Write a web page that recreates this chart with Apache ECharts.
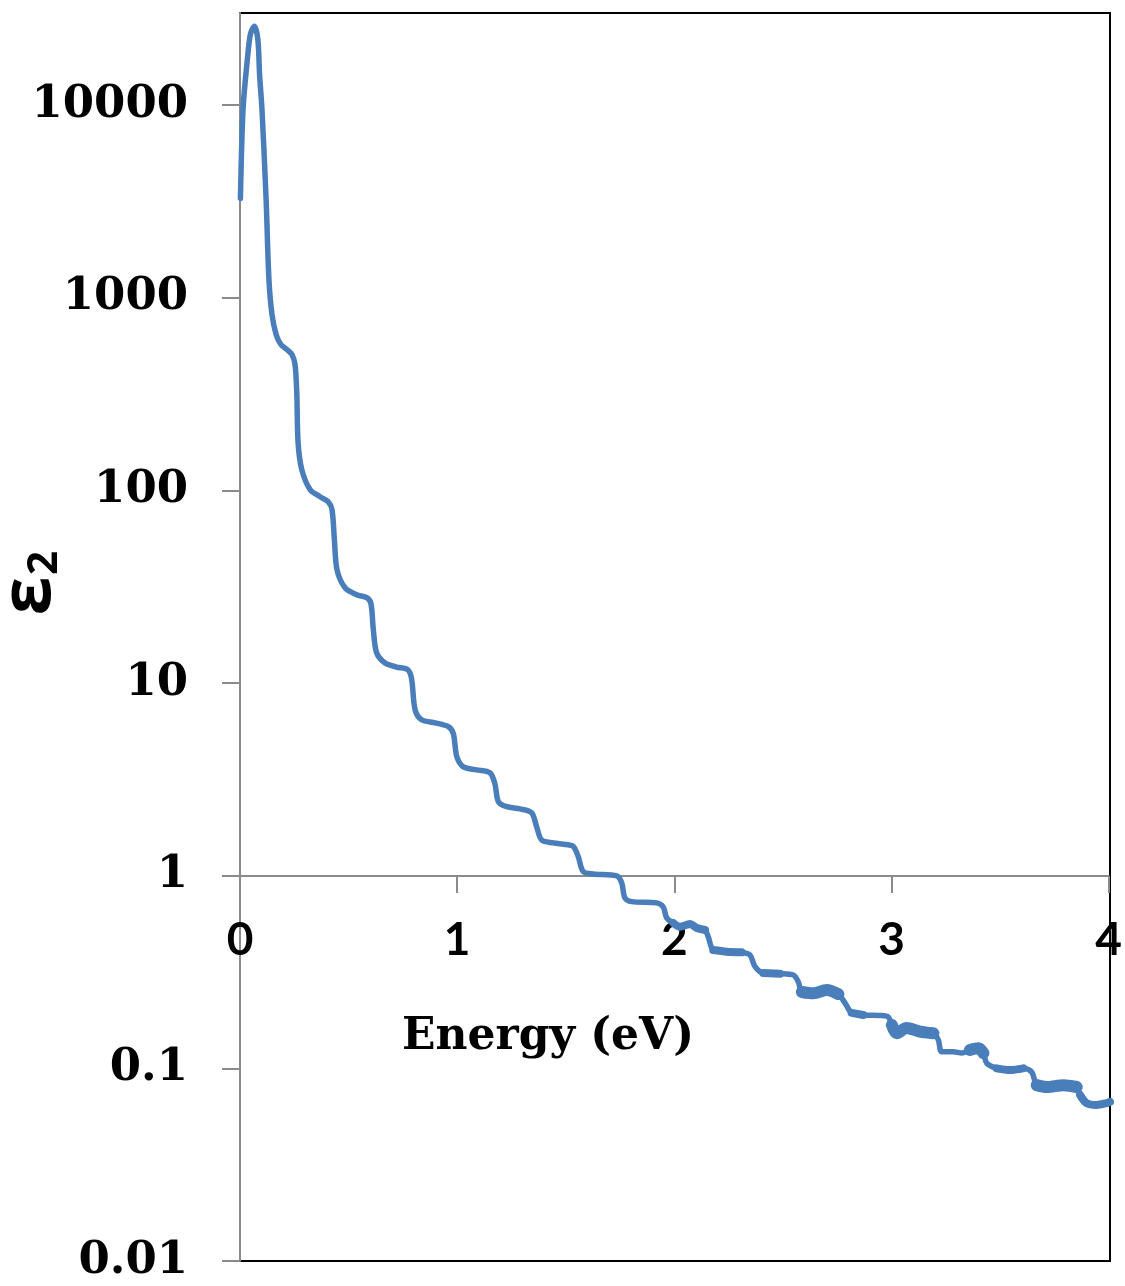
<!DOCTYPE html>
<html>
<head>
<meta charset="utf-8">
<script src="https://cdn.jsdelivr.net/npm/echarts@6/dist/echarts.min.js"></script>
<style>
  html, body { margin: 0; padding: 0; background: #ffffff; }
  #chart { width: 1125px; height: 1286px; }
</style>
</head>
<body>
<div id="chart"></div>
<script>
// Photon energy (eV) and imaginary part of the dielectric function, eps2
const energy = [
  0.002, 0.014, 0.034, 0.048, 0.066, 0.082, 0.090, 0.101, 0.120, 0.133,
  0.147, 0.166, 0.188, 0.216, 0.239, 0.253, 0.261, 0.267, 0.284, 0.322,
  0.368, 0.405, 0.423, 0.434, 0.446, 0.483, 0.536, 0.583, 0.602, 0.613,
  0.628, 0.667, 0.720, 0.772, 0.789, 0.805, 0.835, 0.897, 0.958, 0.981,
  0.997, 1.027, 1.088, 1.149, 1.172, 1.188, 1.226, 1.287, 1.341, 1.364,
  1.387, 1.441, 1.499, 1.533, 1.555, 1.578, 1.624, 1.732, 1.755, 1.770,
  1.801, 1.916, 1.946, 1.962, 1.992, 2.023, 2.069, 2.100, 2.138, 2.153,
  2.176, 2.238, 2.306, 2.345, 2.368, 2.406, 2.483, 2.544, 2.567, 2.583,
  2.637, 2.698, 2.751, 2.782, 2.812, 2.866, 2.943, 2.981, 2.997, 3.019,
  3.065, 3.126, 3.188, 3.211, 3.226, 3.279, 3.318, 3.356, 3.395, 3.418,
  3.433, 3.479, 3.540, 3.601, 3.640, 3.663, 3.709, 3.786, 3.847, 3.862,
  3.892, 3.938, 3.985, 4.000
];
const eps2 = [
  3275, 9500, 17300, 23300, 25600, 21900, 14400, 9500, 3240, 1244,
  818, 644, 571, 538, 507, 450, 322, 177, 128, 101,
  92.6, 87.3, 79.4, 55.5, 38.7, 31.2, 28.7, 27.7, 25.8, 18.9,
  14.35, 12.7, 12.1, 11.7, 10.5, 7.26, 6.44, 6.21, 5.93, 5.45,
  4.14, 3.67, 3.54, 3.42, 3.0, 2.42, 2.28, 2.22, 2.12, 1.79,
  1.53, 1.48, 1.45, 1.415, 1.256, 1.05, 1.02, 0.997, 0.917, 0.766,
  0.733, 0.722, 0.687, 0.603, 0.568, 0.543, 0.561, 0.535, 0.522, 0.481,
  0.411, 0.403, 0.400, 0.387, 0.337, 0.312, 0.310, 0.305, 0.281, 0.249,
  0.245, 0.255, 0.243, 0.218, 0.194, 0.189, 0.188, 0.1845, 0.168, 0.152,
  0.162, 0.155, 0.152, 0.140, 0.122, 0.122, 0.120, 0.1245, 0.127, 0.120,
  0.1064, 0.100, 0.098, 0.100, 0.0958, 0.0818, 0.080, 0.0818, 0.080, 0.0728,
  0.066, 0.0646, 0.066, 0.067
];

// Energy windows where the spectrum is visibly noisy
const moderateNoise = [[1.99, 2.14], [2.17, 2.31], [2.40, 2.49], [2.81, 2.87], [3.47, 3.61], [3.86, 4.0]];
const strongNoise = [[2.58, 2.76], [2.99, 3.19], [3.35, 3.42], [3.66, 3.85]];

const yTickValues = [0.01, 0.1, 1, 10, 100, 1000, 10000];
const yTickLabels = ['0.01', '0.1', '1', '10', '100', '1000', '10000'];
const xTickValues = [0, 1, 2, 3, 4];
const xTickLabels = ['0', '1', '2', '3', '4'];

const xTitle = 'Energy (eV)';
const yTitleMain = 'ε';
const yTitleSub = '2';

const curve = energy.map((e, i) => [e, eps2[i]]);

function inWindows(e, windows) {
  return windows.some(w => e >= w[0] && e <= w[1]);
}
function bandData(windows) {
  return curve.map(p => (inWindows(p[0], windows) ? p : [p[0], null]));
}

const lineColor = '#4a7ebb';
const axisGray = '#8a8a8a';

const chart = echarts.init(document.getElementById('chart'), null, { renderer: 'canvas' });

chart.setOption({
  animation: false,
  backgroundColor: '#ffffff',
  grid: [
    { left: 240, right: 15, top: 13, bottom: 25, show: true, borderColor: '#000000', borderWidth: 2, backgroundColor: 'transparent' },
    { left: 240, right: 15, top: 13, bottom: 410 }
  ],
  xAxis: [
    { gridIndex: 0, type: 'value', min: 0, max: 4, show: false },
    {
      gridIndex: 1, type: 'value', min: 0, max: 4, interval: 1,
      axisLine: { show: true, onZero: false, lineStyle: { color: axisGray, width: 2 } },
      axisTick: { show: true, inside: false, length: 17, lineStyle: { color: axisGray, width: 2 } },
      splitLine: { show: false },
      axisLabel: {
        margin: 41,
        color: '#000000',
        fontFamily: 'Lato',
        fontWeight: 'bold',
        fontSize: 46,
        formatter: v => xTickLabels[xTickValues.indexOf(v)]
      }
    }
  ],
  yAxis: [
    {
      gridIndex: 0, type: 'log', logBase: 10, min: 0.01, max: 30000,
      axisLine: { show: true, lineStyle: { color: axisGray, width: 2 } },
      axisTick: { show: true, inside: false, length: 18, lineStyle: { color: axisGray, width: 2 }, customValues: yTickValues },
      splitLine: { show: false },
      minorTick: { show: false },
      axisLabel: {
        margin: 52,
        color: '#000000',
        fontFamily: 'DejaVu Serif',
        fontWeight: 'bold',
        fontSize: 45,
        customValues: yTickValues,
        formatter: v => {
          const k = yTickValues.findIndex(t => Math.abs(Math.log10(t) - Math.log10(v)) < 1e-6);
          return k >= 0 ? yTickLabels[k] : '';
        }
      }
    },
    { gridIndex: 1, type: 'value', min: 0, max: 1, show: false }
  ],
  series: [
    {
      type: 'line', xAxisIndex: 0, yAxisIndex: 0,
      data: curve, showSymbol: false, smooth: 0.3,
      lineStyle: { color: lineColor, width: 5.5, cap: 'round', join: 'round' },
      z: 3
    },
    {
      type: 'line', xAxisIndex: 0, yAxisIndex: 0,
      data: bandData(moderateNoise), showSymbol: false, smooth: 0.3, connectNulls: false,
      lineStyle: { color: lineColor, width: 8, cap: 'round', join: 'round' },
      z: 3
    },
    {
      type: 'line', xAxisIndex: 0, yAxisIndex: 0,
      data: bandData(strongNoise), showSymbol: false, smooth: 0.3, connectNulls: false,
      lineStyle: { color: lineColor, width: 12, cap: 'round', join: 'round' },
      z: 3
    }
  ],
  graphic: [
    {
      type: 'text', x: 548, y: 1038, z: 10,
      style: { text: xTitle, fill: '#000000', font: 'bold 44px "DejaVu Serif"', align: 'center', verticalAlign: 'middle' }
    },
    {
      type: 'text', x: 30, y: 596, rotation: Math.PI / 2, z: 10,
      style: { text: yTitleMain, fill: '#000000', font: 'bold 70px "Open Sans"', align: 'center', verticalAlign: 'middle' }
    },
    {
      type: 'text', x: 45, y: 563, rotation: Math.PI / 2, z: 10,
      style: { text: yTitleSub, fill: '#000000', font: 'bold 42px "Open Sans"', align: 'center', verticalAlign: 'middle' }
    }
  ]
});
</script>
</body>
</html>
